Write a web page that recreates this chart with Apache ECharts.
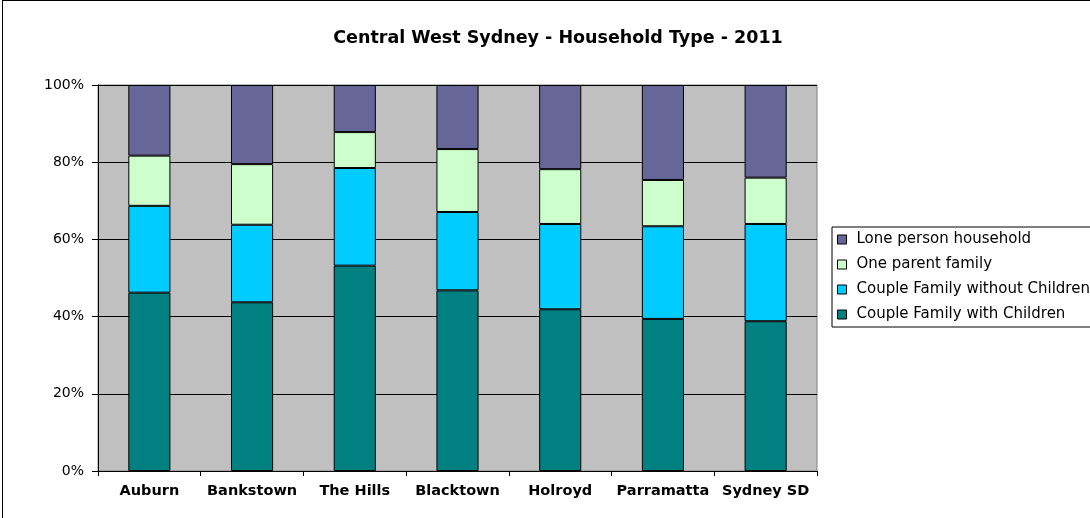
<!DOCTYPE html>
<html>
<head>
<meta charset="utf-8">
<script src="https://cdn.jsdelivr.net/npm/echarts@6/dist/echarts.min.js"></script>
<style>
  html, body { margin: 0; padding: 0; background: #fff; overflow: hidden; }
  #chart { position: absolute; left: 0; top: 0; width: 1090px; height: 518px; }
  #frame {
    position: absolute;
    left: 2px; top: 0;
    width: 1100px; height: 530px;
    border: 1px solid #000;
    pointer-events: none;
  }
</style>
</head>
<body>
<div id="chart"></div>
<div id="frame"></div>
<script>
// 分类
const categories = ['Auburn', 'Bankstown', 'The Hills', 'Blacktown', 'Holroyd', 'Parramatta', 'Sydney SD']
// 各类型占比 (%)
const withChildren = [46.2, 43.7, 53.2, 46.8, 41.9, 39.4, 38.8]
const withoutChildren = [22.5, 20.1, 25.3, 20.3, 22.1, 24.0, 25.2]
const oneParent = [13.0, 15.7, 9.3, 16.3, 14.2, 12.0, 12.0]
const lonePerson = [18.3, 20.5, 12.2, 16.6, 21.8, 24.6, 24.0]
const yTicks = [0, 20, 40, 60, 80, 100]

const chart = echarts.init(document.getElementById('chart'))

function barSeries(name, data, color) {
  return {
    name: name,
    type: 'bar',
    stack: 'total',
    barWidth: '41%',
    data: data,
    itemStyle: {
      color: color,
      borderColor: '#000',
      borderWidth: 1
    }
  }
}

const option = {
  animation: false,
  textStyle: { fontFamily: 'DejaVu Sans, sans-serif' },
  title: {
    text: 'Central West Sydney - Household Type - 2011',
    left: 553,
    top: 24,
    textAlign: 'center',
    textStyle: { fontSize: 17.5, fontWeight: 'bold', color: '#000', fontFamily: 'DejaVu Sans' }
  },
  grid: {
    left: 98,
    right: 273,
    top: 85,
    bottom: 47,
    show: true,
    backgroundColor: '#c0c0c0',
    borderColor: '#808080',
    borderWidth: 1
  },
  legend: {
    orient: 'vertical',
    left: 832,
    top: 227,
    padding: [5, 2, 5, 5],
    itemGap: 10,
    itemWidth: 9,
    itemHeight: 9,
    icon: 'rect',
    borderColor: '#000',
    borderWidth: 1,
    data: ['Lone person household', 'One parent family', 'Couple Family without Children', 'Couple Family with Children'],
    itemStyle: { borderColor: '#000', borderWidth: 1 },
    textStyle: { fontSize: 15, color: '#000', padding: [0, 0, 0, 5], fontFamily: 'DejaVu Sans' }
  },
  xAxis: {
    type: 'category',
    data: categories,
    axisLine: { lineStyle: { color: '#000' } },
    axisTick: { show: true, interval: 0, alignWithLabel: false, length: 5, lineStyle: { color: '#000' } },
    axisLabel: { interval: 0, fontSize: 14.5, fontWeight: 'bold', color: '#000', margin: 13, fontFamily: 'DejaVu Sans' }
  },
  yAxis: {
    type: 'value',
    min: yTicks[0],
    max: yTicks[yTicks.length - 1],
    interval: 20,
    axisLine: { show: true, lineStyle: { color: '#000' } },
    axisTick: { show: true, length: 6, lineStyle: { color: '#000' } },
    axisLabel: { fontSize: 14, color: '#000', margin: 14, formatter: '{value}%', fontFamily: 'DejaVu Sans' },
    splitLine: { show: true, lineStyle: { color: '#000', width: 1 } }
  },
  series: [
    barSeries('Couple Family with Children', withChildren, '#008080'),
    barSeries('Couple Family without Children', withoutChildren, '#00ccff'),
    barSeries('One parent family', oneParent, '#ccffcc'),
    barSeries('Lone person household', lonePerson, '#666699')
  ]
}

chart.setOption(option)
</script>
</body>
</html>
